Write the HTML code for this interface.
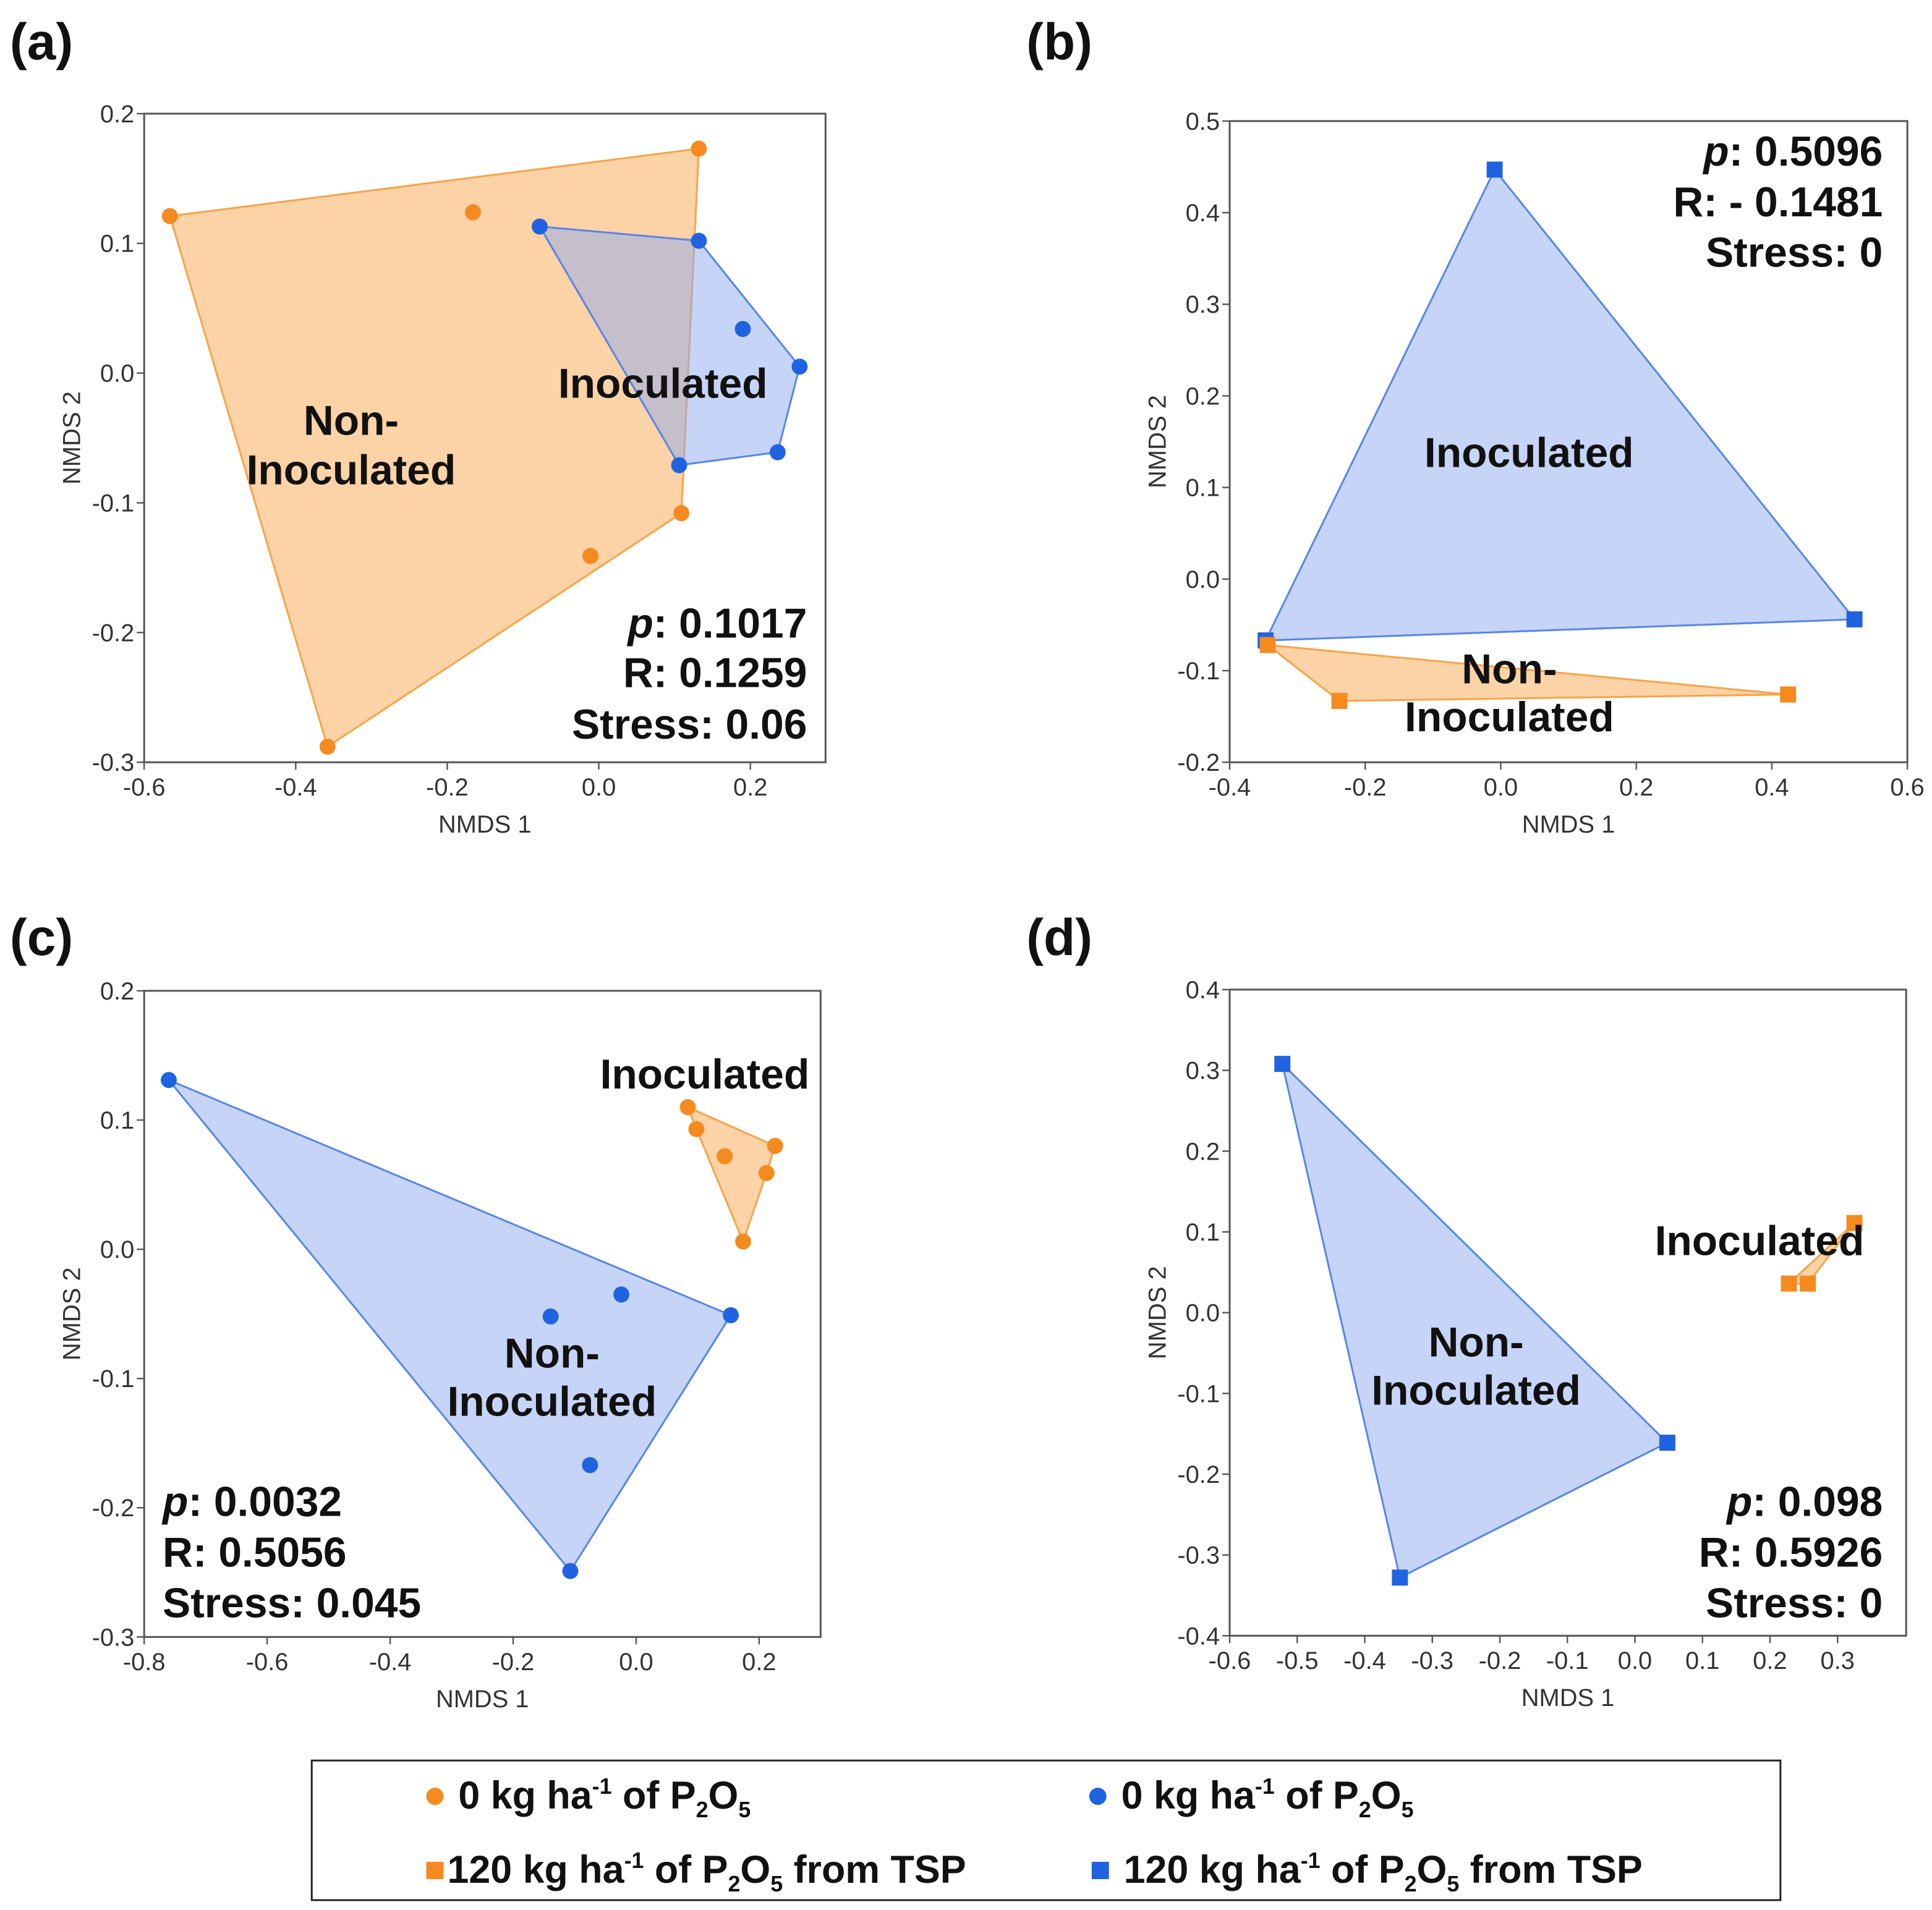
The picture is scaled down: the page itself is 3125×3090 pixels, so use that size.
<!DOCTYPE html>
<html><head><meta charset="utf-8">
<style>
html,body{margin:0;padding:0;background:#fff;}
svg{display:block;}
text{font-family:"Liberation Sans",Arial,sans-serif;}
.tick{font-size:20px;fill:#333;}
.atitle{font-size:20px;fill:#333;}
.lab{font-size:34px;font-weight:bold;fill:#111;}
.plet{font-size:42px;font-weight:bold;fill:#111;}
.leg{font-size:31.5px;font-weight:bold;fill:#111;}
</style></head>
<body>
<svg id="fig" width="3125" height="3090" viewBox="0 0 1568 1546" preserveAspectRatio="none" xmlns="http://www.w3.org/2000/svg">
<text class="plet" x="8" y="48">(a)</text>
<text class="plet" x="833" y="48">(b)</text>
<text class="plet" x="8" y="773">(c)</text>
<text class="plet" x="833" y="773">(d)</text>
<g>
<rect x="253" y="1425" width="1192" height="113" fill="#fff" stroke="#222" stroke-width="1.5"/>
<circle cx="353" cy="1454" r="7" fill="#f58a1f"/>
<text class="leg" x="372" y="1464">0 kg ha<tspan font-size="18" dy="-12">-1</tspan><tspan dy="12"> of P</tspan><tspan font-size="18" dy="7">2</tspan><tspan dy="-7">O</tspan><tspan font-size="18" dy="7">5</tspan></text>
<circle cx="891" cy="1454" r="7" fill="#1f63e0"/>
<text class="leg" x="910" y="1464">0 kg ha<tspan font-size="18" dy="-12">-1</tspan><tspan dy="12"> of P</tspan><tspan font-size="18" dy="7">2</tspan><tspan dy="-7">O</tspan><tspan font-size="18" dy="7">5</tspan></text>
<rect x="346" y="1507" width="14" height="14" fill="#f58a1f"/>
<text class="leg" x="363" y="1524">120 kg ha<tspan font-size="18" dy="-12">-1</tspan><tspan dy="12"> of P</tspan><tspan font-size="18" dy="7">2</tspan><tspan dy="-7">O</tspan><tspan font-size="18" dy="7">5</tspan><tspan dy="-7"> from TSP</tspan></text>
<rect x="886" y="1507" width="14" height="14" fill="#1f63e0"/>
<text class="leg" x="912" y="1524">120 kg ha<tspan font-size="18" dy="-12">-1</tspan><tspan dy="12"> of P</tspan><tspan font-size="18" dy="7">2</tspan><tspan dy="-7">O</tspan><tspan font-size="18" dy="7">5</tspan><tspan dy="-7"> from TSP</tspan></text>
</g>
</svg>
<script>
// Panel (a)
const aOrangeX=[-0.566,0.132,-0.166,0.109,-0.011,-0.358];
const aOrangeY=[0.121,0.173,0.124,-0.108,-0.141,-0.288];
const aOrangeHull=[0,1,3,5];
const aBlueX=[-0.078,0.132,0.19,0.265,0.236,0.106];
const aBlueY=[0.113,0.102,0.034,0.005,-0.061,-0.071];
const aBlueHull=[0,1,3,4,5];
const aXTicks=[-0.6,-0.4,-0.2,0.0,0.2];
const aYTicks=[0.2,0.1,0.0,-0.1,-0.2,-0.3];
// Panel (b)
const bBlueX=[-0.009,0.522,-0.347];
const bBlueY=[0.447,-0.044,-0.067];
const bOrangeX=[-0.344,-0.238,0.424];
const bOrangeY=[-0.072,-0.133,-0.126];
const bXTicks=[-0.4,-0.2,0.0,0.2,0.4,0.6];
const bYTicks=[0.5,0.4,0.3,0.2,0.1,0.0,-0.1,-0.2];
// Panel (c)
const cBlueX=[-0.76,0.154,-0.107,-0.139,-0.024,-0.075];
const cBlueY=[0.131,-0.051,-0.249,-0.052,-0.035,-0.167];
const cBlueHull=[0,1,2];
const cOrangeX=[0.084,0.098,0.144,0.226,0.212,0.174];
const cOrangeY=[0.110,0.093,0.072,0.080,0.059,0.006];
const cOrangeHull=[0,3,4,5,1];
const cXTicks=[-0.8,-0.6,-0.4,-0.2,0.0,0.2];
const cYTicks=[0.2,0.1,0.0,-0.1,-0.2,-0.3];
// Panel (d)
const dBlueX=[-0.522,0.048,-0.348];
const dBlueY=[0.308,-0.161,-0.328];
const dOrangeX=[0.325,0.228,0.256];
const dOrangeY=[0.111,0.036,0.036];
const dXTicks=[-0.6,-0.5,-0.4,-0.3,-0.2,-0.1,0.0,0.1,0.2,0.3];
const dYTicks=[0.4,0.3,0.2,0.1,0.0,-0.1,-0.2,-0.3,-0.4];

const NS='http://www.w3.org/2000/svg';
const svg=document.getElementById('fig');
function mk(tag,attrs,parent){const e=document.createElementNS(NS,tag);for(const k in attrs)e.setAttribute(k,attrs[k]);(parent||svg).appendChild(e);return e;}
const OR='#f58a1f',BL='#1f63e0';

function panel(id,box,xd,yd,xt,yt,series,labels,stats){
  const g=mk('g',{});
  
  
  const sx=v=>box.x0+(v-xd[0])/(xd[1]-xd[0])*(box.x1-box.x0);
  const sy=v=>box.y1-(v-yd[0])/(yd[1]-yd[0])*(box.y1-box.y0);
  const fr=mk('rect',{x:box.x0,y:box.y0,width:box.x1-box.x0,height:box.y1-box.y0,fill:'#fff',stroke:'#555','stroke-width':1.5},g);
  
  
  xt.forEach(v=>{const x=sx(v);
    mk('line',{x1:x,x2:x,y1:box.y1,y2:box.y1+6,stroke:'#555','stroke-width':1.2},g);
    const t=mk('text',{x:x,y:box.y1+27,'text-anchor':'middle',class:'tick'},g);t.textContent=v.toFixed(1);
    
    });
  yt.forEach(v=>{const y=sy(v);
    mk('line',{x1:box.x0-6,x2:box.x0,y1:y,y2:y,stroke:'#555','stroke-width':1.2},g);
    const t=mk('text',{x:box.x0-8,y:y+7,'text-anchor':'end',class:'tick'},g);t.textContent=v.toFixed(1);
    
    });
  const xa=mk('text',{x:(box.x0+box.x1)/2,y:box.y1+57,'text-anchor':'middle',class:'atitle'},g);xa.textContent='NMDS 1';
  
  
  const ycx=box.x0-52,ycy=(box.y0+box.y1)/2;
  const ya=mk('text',{x:ycx,y:ycy,'text-anchor':'middle',class:'atitle',transform:'rotate(-90 '+ycx+' '+ycy+')'},g);ya.textContent='NMDS 2';
  
  
  series.forEach(s=>{
    const pts=s.hull.map(i=>sx(s.x[i])+','+sy(s.y[i])).join(' ');
    const p=mk('polygon',{points:pts,fill:s.c===OR?'#f9a650':'#8eaaf0','fill-opacity':0.5,stroke:s.c===OR?'#f7a445':'#5585e8','stroke-width':1.5},g);
    
    
  });
  series.forEach(s=>{
    s.x.forEach((v,i)=>{let m;
      if(s.sq){m=mk('rect',{x:sx(v)-6.5,y:sy(s.y[i])-6.5,width:13,height:13,fill:s.c},g);}
      else{m=mk('circle',{cx:sx(v),cy:sy(s.y[i]),r:6.5,fill:s.c},g);}
      
      });
  });
  labels.forEach(l=>{const t=mk('text',{x:l[1],y:l[2],'text-anchor':'middle',class:'lab'},g);t.textContent=l[0];
    
    });
  stats.lines.forEach((ln,i)=>{
    const t=mk('text',{x:stats.x,y:stats.y[i],'text-anchor':stats.anchor,class:'lab'},g);
    if(i===0){const a=mk('tspan',{'font-style':'italic'},t);a.textContent='p';const b=mk('tspan',{},t);b.textContent=ln;}
    else t.textContent=ln;
    
    });
}
const all=a=>a.map((_,i)=>i);
panel('a',{x0:117,x1:670,y0:92,y1:617},[-0.6,0.2992],[-0.3,0.2],aXTicks,aYTicks,
 [{n:'inoculated',x:aOrangeX,y:aOrangeY,hull:aOrangeHull,c:OR},{n:'non-inoculated',x:aBlueX,y:aBlueY,hull:aBlueHull,c:BL}],
 [['Inoculated',538,322],['Non-',285,352],['Inoculated',285,392]],
 {x:655,anchor:'end',y:[516,556,598],lines:[': 0.1017','R: 0.1259','Stress: 0.06']});
panel('b',{x0:998,x1:1548,y0:98,y1:617},[-0.4,0.6],[-0.2,0.5],bXTicks,bYTicks,
 [{n:'inoculated',x:bBlueX,y:bBlueY,hull:all(bBlueX),c:BL,sq:1},{n:'non-inoculated',x:bOrangeX,y:bOrangeY,hull:all(bOrangeX),c:OR,sq:1}],
 [['Inoculated',1241,378],['Non-',1225,553],['Inoculated',1225,592]],
 {x:1528,anchor:'end',y:[134,175,216],lines:[': 0.5096','R: - 0.1481','Stress: 0']});
panel('c',{x0:117,x1:666,y0:802,y1:1325},[-0.8,0.3],[-0.3,0.2],cXTicks,cYTicks,
 [{n:'non-inoculated',x:cBlueX,y:cBlueY,hull:cBlueHull,c:BL},{n:'inoculated',x:cOrangeX,y:cOrangeY,hull:cOrangeHull,c:OR}],
 [['Inoculated',572,881],['Non-',448,1107],['Inoculated',448,1146]],
 {x:132,anchor:'start',y:[1227,1268,1309],lines:[': 0.0032','R: 0.5056','Stress: 0.045']});
panel('d',{x0:998,x1:1547,y0:801,y1:1324},[-0.6,0.4015],[-0.4,0.4],dXTicks,dYTicks,
 [{n:'non-inoculated',x:dBlueX,y:dBlueY,hull:all(dBlueX),c:BL,sq:1},{n:'inoculated',x:dOrangeX,y:dOrangeY,hull:all(dOrangeX),c:OR,sq:1}],
 [['Inoculated',1428,1016],['Non-',1198,1098],['Inoculated',1198,1137]],
 {x:1528,anchor:'end',y:[1227,1268,1309],lines:[': 0.098','R: 0.5926','Stress: 0']});
</script>
</body></html>
